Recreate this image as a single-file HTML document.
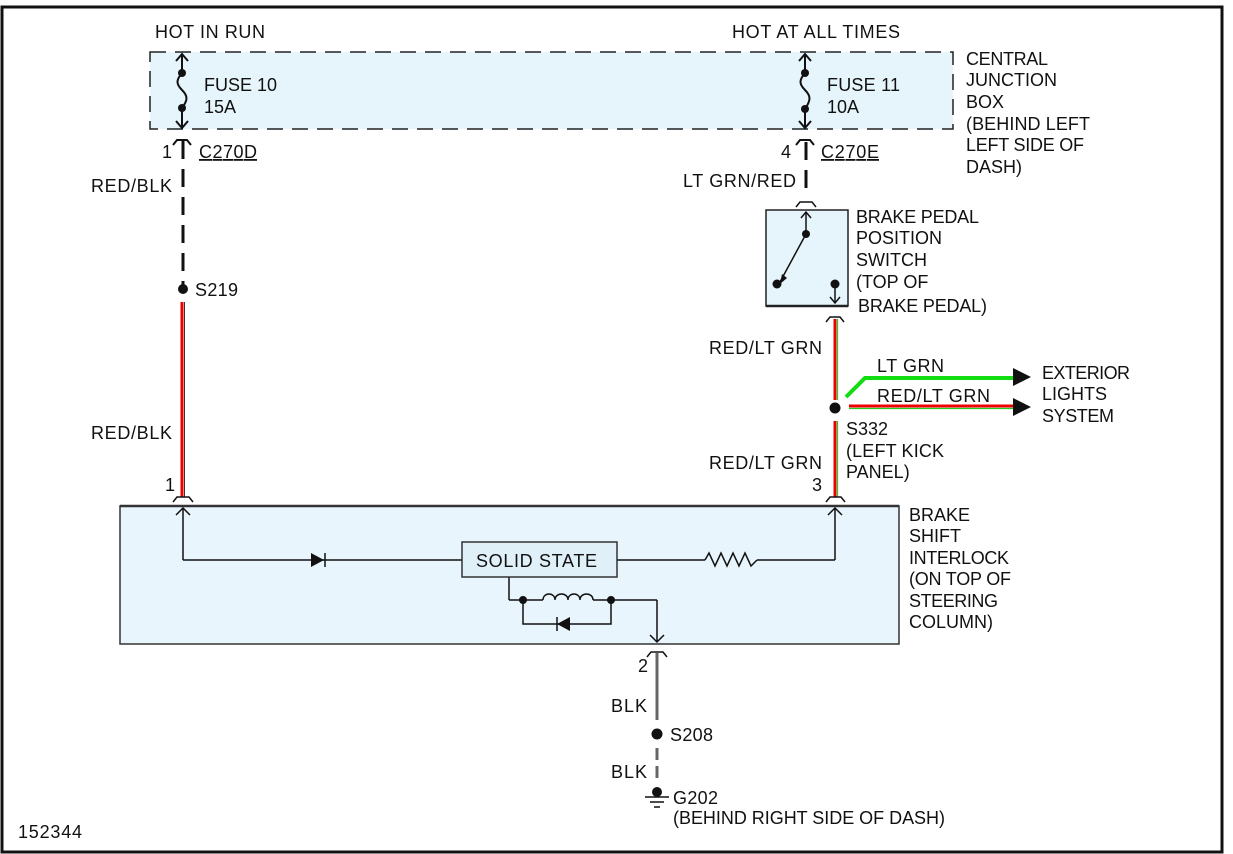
<!DOCTYPE html>
<html><head><meta charset="utf-8"><style>
html,body{margin:0;padding:0;background:#fff;}
svg{display:block;}
text{font-family:"Liberation Sans",Arial,sans-serif;font-size:18px;fill:#111;}
</style></head><body>
<svg width="1233" height="854" viewBox="0 0 1233 854" xmlns="http://www.w3.org/2000/svg">
<rect x="2" y="7" width="1220" height="845" fill="#fff" stroke="#111" stroke-width="3"/>
<rect x="150" y="52" width="803" height="77" fill="#e6f4fb" stroke="#222" stroke-width="1.5" stroke-dasharray="16,9"/>
<g stroke="#111" stroke-width="2" fill="none">
 <line x1="182" y1="54" x2="182" y2="73"/><path d="M176,61 L182,54 L188,61"/>
 <path d="M182,73 C176,80 176,84 182,90 C188,96 188,100 182,108"/>
 <line x1="182" y1="108" x2="182" y2="128"/><path d="M176,121 L182,128 L188,121"/>
 <path d="M173,145 L177,140 L187,140 L191,145"/>
 <line x1="805" y1="54" x2="805" y2="73"/><path d="M799,61 L805,54 L811,61"/>
 <path d="M805,73 C799,80 799,84 805,90 C811,96 811,100 805,109"/>
 <line x1="805" y1="109" x2="805" y2="128"/><path d="M799,121 L805,128 L811,121"/>
 <path d="M796,145 L800,140 L810,140 L814,145"/>
</g>
<g fill="#111"><circle cx="182" cy="73" r="4"/><circle cx="182" cy="108" r="4"/><circle cx="805" cy="73" r="4"/><circle cx="805" cy="109" r="4"/></g>
<line x1="183" y1="141" x2="183" y2="285" stroke="#111" stroke-width="3" stroke-dasharray="18,10"/>
<circle cx="183" cy="289" r="5" fill="#111"/>
<line x1="182" y1="302" x2="182" y2="497" stroke="#e00" stroke-width="3"/>
<line x1="184.5" y1="302" x2="184.5" y2="497" stroke="#333" stroke-width="1"/>
<path d="M173,502 L177,497 L189,497 L193,502" stroke="#111" stroke-width="1.5" fill="none"/>
<line x1="806" y1="142" x2="806" y2="195" stroke="#111" stroke-width="3" stroke-dasharray="18,10"/>
<path d="M796,207 L800,202 L812,202 L816,207" stroke="#111" stroke-width="1.5" fill="none"/>
<rect x="766" y="210" width="82" height="96" fill="#e6f4fb" stroke="#222" stroke-width="1.5"/>
<line x1="766" y1="306" x2="848" y2="306" stroke="#222" stroke-width="2.5"/>
<g stroke="#111" stroke-width="1.5" fill="none">
 <line x1="806" y1="212" x2="806" y2="234"/><path d="M801,218 L806,212 L811,218"/>
 <line x1="806" y1="234" x2="780" y2="282"/>
 <line x1="835" y1="284" x2="835" y2="303"/><path d="M830,297 L835,303 L840,297"/>
 <path d="M826,322 L830,317 L840,317 L844,322"/>
</g>
<path d="M780,284 L782,274 L787,278 Z" fill="#111"/>
<g fill="#111"><circle cx="806" cy="234" r="4"/><circle cx="777" cy="284" r="4.5"/><circle cx="835" cy="284" r="4.5"/></g>
<line x1="835" y1="319" x2="835" y2="400" stroke="#e00" stroke-width="3"/>
<line x1="837.5" y1="319" x2="837.5" y2="400" stroke="#2c2" stroke-width="1.2"/>
<circle cx="835" cy="408" r="5.5" fill="#111"/>
<line x1="835" y1="421" x2="835" y2="497" stroke="#e00" stroke-width="3"/>
<line x1="837.5" y1="421" x2="837.5" y2="497" stroke="#2c2" stroke-width="1.2"/>
<path d="M826,502 L830,497 L841,497 L845,502" stroke="#111" stroke-width="1.5" fill="none"/>
<path d="M846,397 L865,378 L1015,378" stroke="#1d1" stroke-width="4" fill="none"/>
<polygon points="1013,368 1031,377 1013,386" fill="#111"/>
<line x1="849" y1="406" x2="1015" y2="406" stroke="#e00" stroke-width="3"/>
<line x1="849" y1="408.5" x2="1015" y2="408.5" stroke="#2c2" stroke-width="1.2"/>
<polygon points="1013,398 1031,407 1013,416" fill="#111"/>
<rect x="120" y="506" width="779" height="138" fill="#e8f5fc" stroke="#333" stroke-width="1.5"/>
<line x1="120" y1="506" x2="899" y2="506" stroke="#333" stroke-width="2.5"/>
<g stroke="#111" stroke-width="1.5" fill="none">
 <line x1="183" y1="508" x2="183" y2="560"/><path d="M176,515 L183,508 L190,515"/>
 <line x1="183" y1="560" x2="462" y2="560"/>
 <line x1="617" y1="560" x2="705" y2="560"/>
 <path d="M705,560 L709,553 L715,566 L721,553 L727,566 L733,553 L739,566 L745,553 L751,566 L757,560"/>
 <line x1="757" y1="560" x2="835" y2="560"/>
 <line x1="835" y1="560" x2="835" y2="508"/><path d="M828,515 L835,508 L842,515"/>
 <line x1="509" y1="577" x2="509" y2="600"/>
 <line x1="509" y1="600" x2="543" y2="600"/>
 <path d="M543,600 C543,592 555,592 555,600 C555,592 568,592 568,600 C568,592 580,592 580,600 C580,592 593,592 593,600"/>
 <line x1="593" y1="600" x2="657" y2="600"/>
 <line x1="657" y1="600" x2="657" y2="642"/><path d="M650,635 L657,642 L664,635"/>
 <path d="M523,600 L523,624 L611,624 L611,600"/>
 <line x1="325" y1="553" x2="325" y2="567"/>
 <line x1="557" y1="617" x2="557" y2="631"/>
 <path d="M647,657 L651,652 L663,652 L667,657"/>
</g>
<polygon points="311,553 311,567 324,560" fill="#111"/>
<polygon points="570,617 570,631 557,624" fill="#111"/>
<g fill="#111"><circle cx="523" cy="600" r="4"/><circle cx="611" cy="600" r="4"/></g>
<rect x="462" y="542" width="155" height="35" fill="#dff0f8" stroke="#333" stroke-width="1.5"/>
<text x="476" y="567" textLength="121">SOLID STATE</text>
<line x1="657" y1="653" x2="657" y2="720" stroke="#666" stroke-width="3"/>
<circle cx="657" cy="734" r="5.5" fill="#111"/>
<line x1="657" y1="748" x2="657" y2="782" stroke="#666" stroke-width="3" stroke-dasharray="12,6"/>
<circle cx="657" cy="792" r="5" fill="#111"/>
<line x1="645" y1="797" x2="669" y2="797" stroke="#111" stroke-width="1.5"/>
<line x1="650" y1="802" x2="664" y2="802" stroke="#111" stroke-width="1.5"/>
<line x1="654" y1="807" x2="660" y2="807" stroke="#111" stroke-width="1.5"/>
<text x="155" y="38" textLength="110">HOT IN RUN</text>
<text x="732" y="38" textLength="168">HOT AT ALL TIMES</text>
<text x="204" y="91" textLength="73">FUSE 10</text><text x="204" y="113">15A</text>
<text x="827" y="91" textLength="73">FUSE 11</text><text x="827" y="113">10A</text>
<text x="966" y="65" textLength="82">CENTRAL</text><text x="966" y="86" textLength="91">JUNCTION</text><text x="966" y="108">BOX</text>
<text x="966" y="130" textLength="124">(BEHIND LEFT</text><text x="966" y="151" textLength="118">LEFT SIDE OF</text><text x="966" y="173">DASH)</text>
<text x="162" y="158">1</text>
<text x="199" y="158" text-decoration="underline" textLength="58">C270D</text>
<text x="781" y="158">4</text>
<text x="821" y="158" text-decoration="underline" textLength="58">C270E</text>
<text x="91" y="192" textLength="81">RED/BLK</text>
<text x="683" y="187" textLength="113">LT GRN/RED</text>
<text x="195" y="296" textLength="43">S219</text>
<text x="856" y="223" textLength="123">BRAKE PEDAL</text><text x="856" y="244">POSITION</text><text x="856" y="266">SWITCH</text>
<text x="856" y="288">(TOP OF</text><text x="858" y="312" textLength="129">BRAKE PEDAL)</text>
<text x="709" y="354" textLength="113">RED/LT GRN</text>
<text x="877" y="372" textLength="67">LT GRN</text>
<text x="877" y="402" textLength="113">RED/LT GRN</text>
<text x="1042" y="379" textLength="88">EXTERIOR</text><text x="1042" y="400">LIGHTS</text><text x="1042" y="422" textLength="72">SYSTEM</text>
<text x="91" y="439" textLength="81">RED/BLK</text>
<text x="846" y="435">S332</text><text x="846" y="457" textLength="98">(LEFT KICK</text><text x="846" y="478">PANEL)</text>
<text x="709" y="469" textLength="113">RED/LT GRN</text>
<text x="165" y="491">1</text>
<text x="812" y="491">3</text>
<text x="909" y="521">BRAKE</text><text x="909" y="542">SHIFT</text><text x="909" y="564" textLength="100">INTERLOCK</text>
<text x="909" y="585" textLength="102">(ON TOP OF</text><text x="909" y="607" textLength="89">STEERING</text><text x="909" y="628" textLength="84">COLUMN)</text>
<text x="638" y="672">2</text>
<text x="611" y="712" textLength="36">BLK</text>
<text x="670" y="741" textLength="43">S208</text>
<text x="611" y="778" textLength="36">BLK</text>
<text x="673" y="804" textLength="45">G202</text>
<text x="673" y="824" textLength="272">(BEHIND RIGHT SIDE OF DASH)</text>
<text x="18" y="838" textLength="64">152344</text>
</svg>
</body></html>
